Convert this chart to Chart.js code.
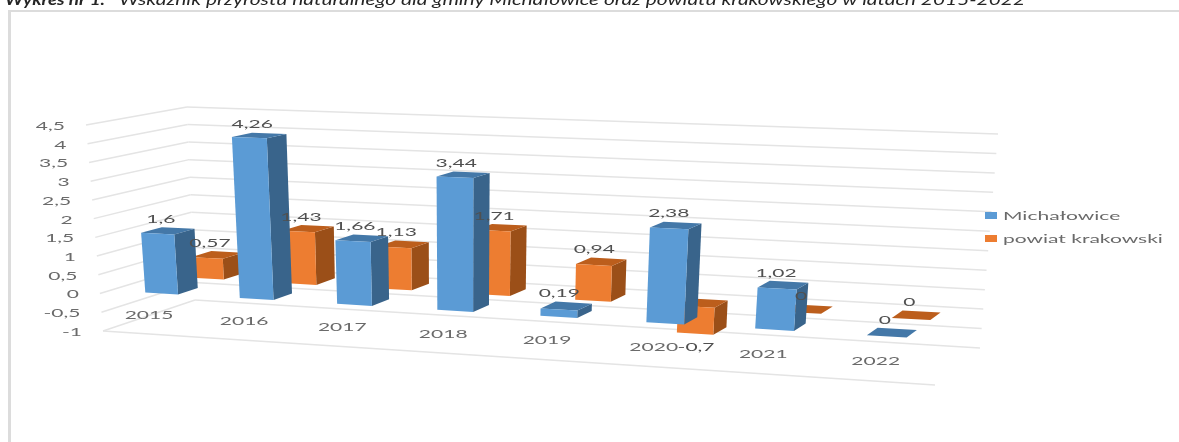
<!DOCTYPE html>
<html lang="pl">
<head>
<meta charset="utf-8">
<title>Wykres nr 1</title>
<script src="https://cdn.jsdelivr.net/npm/chart.js@4/dist/chart.umd.min.js"></script>
<style>
  html, body { margin: 0; padding: 0; background: #fff; overflow: hidden; }
  #frame { position: absolute; left: 8px; top: 10px; right: 0; bottom: 0;
           border-left: 3px solid #dcdcdc; border-top: 2px solid #dcdcdc; }
  #chart { position: absolute; left: 0; top: 0; }
</style>
</head>
<body>
<div id="frame"></div>
<canvas id="chart" width="1179" height="442"></canvas>
<script>
const categories = ["2015", "2016", "2017", "2018", "2019", "2020", "2021", "2022"];
const michalowice = [1.6, 4.26, 1.66, 3.44, 0.19, 2.38, 1.02, 0];
const powiat = [0.57, 1.43, 1.13, 1.71, 0.94, -0.7, 0, 0];
const seriesNames = ["Michałowice", "powiat krakowski"];
const titleBold = "Wykres nr 1.";
const titleText = "Wskaźnik przyrostu naturalnego dla gminy Michałowice oraz powiatu krakowskiego w latach 2015-2022";

const textColor = "#505050";
const tickColor = "#6a6a6a";
const gridColor = "#e4e4e4";
const textStretch = 1.75;

// side and top face colours, same order as the datasets
const sideColors = ["#39648b", "#9b4f18"];
const topColors = ["#4478a8", "#bc5e1c"];
// depth range of each series row, 0 = front of the floor, 1 = back wall
const rows = [[0.11, 0.33], [0.62, 0.84]];

// the box the flat chart gets projected on (screen corners)
const box = {
  frontLeftBottom: [103, 331], frontRightBottom: [935, 385],
  frontLeftTop: [86, 125], frontRightTop: [957, 157],
  backLeftBottom: [195, 300], backRightBottom: [980, 348],
  backLeftTop: [187, 107], backRightTop: [998, 134],
};

function mix(a, b, t) {
  return [a[0] + (b[0] - a[0]) * t, a[1] + (b[1] - a[1]) * t];
}

// flat chart pixel + depth -> screen point
function project(chart, px, py, d) {
  const area = chart.chartArea;
  const u = (px - area.left) / (area.right - area.left);
  const v = (area.bottom - py) / (area.bottom - area.top);
  const frontB = mix(box.frontLeftBottom, box.frontRightBottom, u);
  const frontT = mix(box.frontLeftTop, box.frontRightTop, u);
  const backB = mix(box.backLeftBottom, box.backRightBottom, u);
  const backT = mix(box.backLeftTop, box.backRightTop, u);
  return mix(mix(frontB, backB, d), mix(frontT, backT, d), v);
}

// categories get wider to the right, only bars and their labels use this
function warpX(chart, px) {
  const area = chart.chartArea;
  const w = area.right - area.left;
  const u = (px - area.left) / w;
  return area.left + w * (u + 0.006 * (1 - u) - 0.11 * u * (1 - u));
}

function face(ctx, points, color) {
  ctx.beginPath();
  ctx.moveTo(points[0][0], points[0][1]);
  for (let i = 1; i < points.length; i++) ctx.lineTo(points[i][0], points[i][1]);
  ctx.closePath();
  ctx.fillStyle = color;
  ctx.fill();
}

function line(ctx, a, b) {
  ctx.beginPath();
  ctx.moveTo(a[0], a[1]);
  ctx.lineTo(b[0], b[1]);
  ctx.stroke();
}

function label(ctx, text, x, y, align, color) {
  ctx.save();
  ctx.translate(x, y);
  ctx.scale(textStretch, 1);
  ctx.font = "12px Lato";
  ctx.fillStyle = color || textColor;
  ctx.textAlign = align;
  ctx.textBaseline = "middle";
  ctx.fillText(text, 0, 0);
  ctx.restore();
}

function comma(value) {
  return String(value).replace(".", ",");
}

function drawGrid(chart) {
  const ctx = chart.ctx;
  const area = chart.chartArea;
  const yScale = chart.scales.y;
  ctx.save();
  ctx.strokeStyle = gridColor;
  ctx.lineWidth = 1.5;
  yScale.ticks.forEach((tick) => {
    const py = yScale.getPixelForValue(tick.value);
    const front = project(chart, area.left, py, 0);
    const back = project(chart, area.left, py, 1);
    line(ctx, front, back);
    line(ctx, back, project(chart, area.right, py, 1));
    label(ctx, comma(tick.value), front[0] - 21, front[1] + 1, "right", tickColor);
  });
  line(ctx, project(chart, area.left, area.bottom, 0), project(chart, area.right, area.bottom, 0));
  ctx.restore();
}

function drawCategoryLabels(chart) {
  const ctx = chart.ctx;
  const xScale = chart.scales.x;
  const yScale = chart.scales.y;
  categories.forEach((name, i) => {
    const p = project(chart, warpX(chart, xScale.getPixelForValue(i)), yScale.getPixelForValue(-0.5), 0);
    label(ctx, name, p[0] - 4, p[1], "center", tickColor);
  });
}

function drawBars(chart, index) {
  const ctx = chart.ctx;
  const d0 = rows[index][0];
  const d1 = rows[index][1];
  chart.getDatasetMeta(index).data.forEach((bar) => {
    const xl = warpX(chart, bar.x - bar.width / 2);
    const xr = warpX(chart, bar.x + bar.width / 2);
    const top = Math.min(bar.y, bar.base);
    const bottom = Math.max(bar.y, bar.base);
    face(ctx, [project(chart, xr, top, d0), project(chart, xr, top, d1),
      project(chart, xr, bottom, d1), project(chart, xr, bottom, d0)], sideColors[index]);
    face(ctx, [project(chart, xl, top, d0), project(chart, xr, top, d0),
      project(chart, xr, top, d1), project(chart, xl, top, d1)], topColors[index]);
    face(ctx, [project(chart, xl, top, d0), project(chart, xr, top, d0),
      project(chart, xr, bottom, d0), project(chart, xl, bottom, d0)], chart.data.datasets[index].backgroundColor);
  });
}

function drawValueLabels(chart, index) {
  const ctx = chart.ctx;
  const d0 = rows[index][0];
  const d1 = rows[index][1];
  const values = chart.data.datasets[index].data;
  chart.getDatasetMeta(index).data.forEach((bar, i) => {
    const x = warpX(chart, bar.x);
    if (values[i] < 0) {
      const p = project(chart, x, bar.y, d0);
      label(ctx, comma(values[i]), p[0] + 1, p[1] + 13, "center");
    } else {
      const mid = project(chart, x, bar.y, (d0 + d1) / 2);
      const back = project(chart, x, bar.y, d1);
      label(ctx, comma(values[i]), mid[0] - 7, back[1] - 9, "center");
    }
  });
}

function drawTitle(chart) {
  const ctx = chart.ctx;
  ctx.save();
  ctx.fillStyle = "#262626";
  ctx.textBaseline = "alphabetic";
  ctx.textAlign = "left";
  ctx.font = "italic bold 16px Lato";
  let w = ctx.measureText(titleBold).width;
  ctx.save();
  ctx.translate(5, 5);
  ctx.scale(100 / w, 1);
  ctx.fillText(titleBold, 0, 0);
  ctx.restore();
  ctx.font = "italic 16px Lato";
  w = ctx.measureText(titleText).width;
  ctx.translate(119, 5);
  ctx.scale(906 / w, 1);
  ctx.fillText(titleText, 0, 0);
  ctx.restore();
}

function drawLegend(chart) {
  const ctx = chart.ctx;
  chart.data.datasets.forEach((ds, i) => {
    const y = 216 + i * 23;
    ctx.fillStyle = ds.backgroundColor;
    ctx.fillRect(985, y - 4, 12, 7);
    label(ctx, ds.label, 1003, y, "left", tickColor);
  });
}

const view3d = {
  id: "view3d",
  beforeDatasetsDraw(chart) {
    drawTitle(chart);
    drawGrid(chart);
    drawCategoryLabels(chart);
    // back row first, the front row covers it
    drawBars(chart, 1);
    drawBars(chart, 0);
    drawValueLabels(chart, 1);
    drawValueLabels(chart, 0);
    drawLegend(chart);
    return false;
  },
};

new Chart(document.getElementById("chart"), {
  type: "bar",
  data: {
    labels: categories,
    datasets: [
      { label: seriesNames[0], data: michalowice, backgroundColor: "#5b9bd5", grouped: false, barPercentage: 0.35, categoryPercentage: 1 },
      { label: seriesNames[1], data: powiat, backgroundColor: "#ed7d31", grouped: false, barPercentage: 0.35, categoryPercentage: 1 },
    ],
  },
  options: {
    responsive: false,
    animation: false,
    plugins: { legend: { display: false }, tooltip: { enabled: false } },
    scales: {
      x: { display: false },
      y: { display: false, min: -1, max: 4.5, ticks: { stepSize: 0.5 } },
    },
  },
  plugins: [view3d],
});
</script>
</body>
</html>
